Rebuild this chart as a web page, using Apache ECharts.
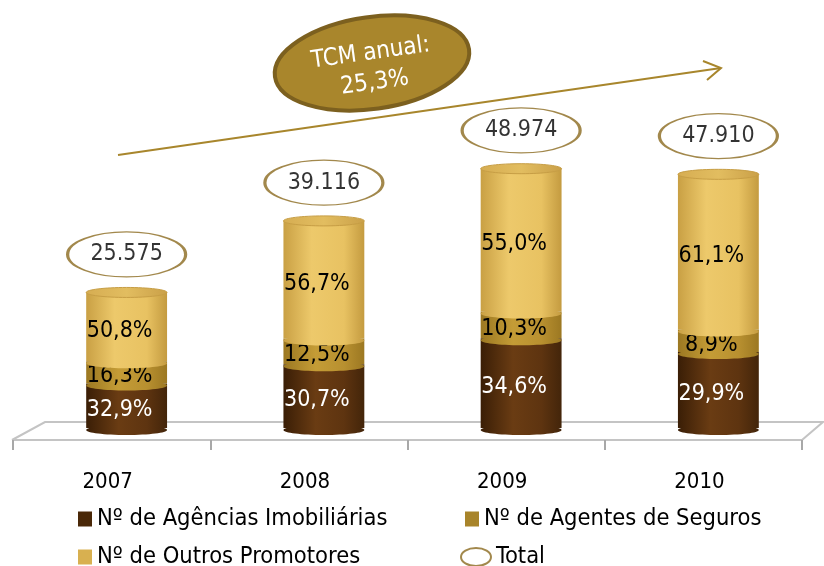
<!DOCTYPE html>
<html>
<head>
<meta charset="utf-8">
<script src="https://cdn.jsdelivr.net/npm/echarts@6/dist/echarts.min.js"></script>
<style>
  html, body { margin: 0; padding: 0; background: #fff; }
  #chart { width: 824px; height: 566px; }
</style>
</head>
<body>
<div id="chart"></div>
<script>
// dados
var years = ['2007', '2008', '2009', '2010'];
var totals = [25575, 39116, 48974, 47910];
var pctAgencias = [32.9, 30.7, 34.6, 29.9];
var pctSeguros = [16.3, 12.5, 10.3, 8.9];
var pctOutros = [50.8, 56.7, 55.0, 61.1];
var tcmText = 'TCM anual:\n25,3%';

var FONT = '"Liberation Sans Narrow", "DejaVu Sans Condensed", "Liberation Sans", sans-serif';

function fmtNum(n) {
    return String(n).replace(/\B(?=(\d{3})+(?!\d))/g, '.');
}
function fmtPct(p) {
    return p.toFixed(1).replace('.', ',') + '%';
}

// segmentos empilhados [categoria, inicio, fim, pct]
var segAg = [], segSeg = [], segOut = [];
years.forEach(function (y, i) {
    var a = totals[i] * pctAgencias[i] / 100;
    var s = totals[i] * pctSeguros[i] / 100;
    var o = totals[i] * pctOutros[i] / 100;
    segAg.push([i, 0, a, pctAgencias[i]]);
    segSeg.push([i, a, a + s, pctSeguros[i]]);
    segOut.push([i, a + s, a + s + o, pctOutros[i]]);
});

function grad(stops) {
    return new echarts.graphic.LinearGradient(0, 0, 1, 0, stops);
}

function cylinder(colors, textColor, isTop) {
    return function (params, api) {
        var cat = api.value(0);
        var p0 = api.coord([cat, api.value(1)]);
        var p1 = api.coord([cat, api.value(2)]);
        var w = api.size([1, 0])[0] * 0.41;
        var ry = 5;
        var fill = grad(colors);
        var children = [
            { type: 'rect', shape: { x: p0[0] - w / 2, y: p1[1], width: w, height: p0[1] - p1[1] }, style: { fill: fill } },
            { type: 'ellipse', shape: { cx: p0[0], cy: p0[1] + 2, rx: w / 2, ry: ry }, style: { fill: fill } }
        ];
        if (isTop) {
            children.push({ type: 'ellipse', shape: { cx: p1[0], cy: p1[1], rx: w / 2, ry: ry },
                style: { fill: grad([{offset: 0, color: '#d6ad52'}, {offset: 0.5, color: '#e2bd60'}, {offset: 1, color: '#caa048'}]), stroke: '#c79e45', lineWidth: 1 } });
        }
        children.push({
            type: 'text',
            x: p0[0] - 7, y: (p0[1] + p1[1]) / 2 + 4,
            style: { text: fmtPct(api.value(3)), fill: textColor, font: '23px ' + FONT, align: 'center', verticalAlign: 'middle' }
        });
        return { type: 'group', children: children };
    };
}

var legendText = { fontSize: 23.5, color: '#000', fontFamily: FONT };

var myChart = echarts.init(document.getElementById('chart'));
var option = {
    backgroundColor: '#fff',
    animation: false,
    textStyle: { fontFamily: FONT },
    grid: [
        { left: 28, right: 7, top: 110, bottom: 138 },
        { left: 13, right: 22, top: 430, height: 10 }
    ],
    xAxis: [
        { type: 'category', data: years, gridIndex: 0, show: false },
        {
            type: 'category', data: years, gridIndex: 1,
            axisLine: { show: true, lineStyle: { color: '#c4c4c4', width: 2 } },
            axisTick: { show: true, interval: 0, length: 10, lineStyle: { color: '#a8a8a8', width: 2 } },
            axisLabel: { color: '#000', fontSize: 22, margin: 31, padding: [0, 8, 0, 0], fontFamily: FONT }
        }
    ],
    yAxis: [
        { type: 'value', gridIndex: 0, min: 0, max: 60000, show: false },
        { type: 'value', gridIndex: 1, min: 0, max: 1, show: false }
    ],
    legend: [
        { data: ['Nº de Agências Imobiliárias'], left: 73, top: 502, icon: 'rect', itemWidth: 14, itemHeight: 15, textStyle: legendText },
        { data: ['Nº de Agentes de Seguros'], left: 460, top: 502, icon: 'rect', itemWidth: 14, itemHeight: 15, textStyle: legendText },
        { data: ['Nº de Outros Promotores'], left: 73, top: 540, icon: 'rect', itemWidth: 14, itemHeight: 15, textStyle: legendText },
        { data: ['Total'], left: 455, top: 540, icon: 'path://M0,9A15,9,0,1,1,30,9A15,9,0,1,1,0,9Z', itemWidth: 30, itemHeight: 18, textStyle: legendText }
    ],
    graphic: [
        // chão 3D
        { type: 'polyline', z: 0, shape: { points: [[12, 440], [45, 422], [823, 422], [802, 440]] }, style: { stroke: '#c4c4c4', lineWidth: 2, fill: null } },
        // seta
        { type: 'line', shape: { x1: 118, y1: 155, x2: 721, y2: 68 }, style: { stroke: '#a8862c', lineWidth: 2 } },
        { type: 'polyline', shape: { points: [[703, 61], [721, 68], [707, 80]] }, style: { stroke: '#a8862c', lineWidth: 2, fill: null } },
        {
            type: 'group', x: 372, y: 63, rotation: 0.14, z: 10,
            children: [
                { type: 'ellipse', shape: { cx: 0, cy: 0, rx: 98, ry: 46 }, style: { fill: '#a9862c', stroke: '#7c601f', lineWidth: 4 } },
                { type: 'text', x: 0, y: 5, style: { text: tcmText, fill: '#fff', font: '24px ' + FONT, align: 'center', verticalAlign: 'middle', lineHeight: 30 } }
            ]
        }
    ],
    series: [
        {
            name: 'Nº de Agências Imobiliárias', type: 'custom', xAxisIndex: 0, yAxisIndex: 0,
            itemStyle: { color: '#4a2808' }, encode: { x: 0, y: [1, 2] }, clip: false,
            renderItem: cylinder([{offset: 0, color: '#3a1e06'}, {offset: 0.4, color: '#6a3c13'}, {offset: 0.75, color: '#5e3410'}, {offset: 1, color: '#43250a'}], '#fff', false),
            data: segAg
        },
        {
            name: 'Nº de Agentes de Seguros', type: 'custom', xAxisIndex: 0, yAxisIndex: 0,
            itemStyle: { color: '#a8842a' }, encode: { x: 0, y: [1, 2] }, clip: false,
            renderItem: cylinder([{offset: 0, color: '#9c7822'}, {offset: 0.4, color: '#c49c36'}, {offset: 0.75, color: '#b89030'}, {offset: 1, color: '#9c7822'}], '#000', false),
            data: segSeg
        },
        {
            name: 'Nº de Outros Promotores', type: 'custom', xAxisIndex: 0, yAxisIndex: 0,
            itemStyle: { color: '#d8b050' }, encode: { x: 0, y: [1, 2] }, clip: false,
            renderItem: cylinder([{offset: 0, color: '#c9a044'}, {offset: 0.35, color: '#edc96b'}, {offset: 0.75, color: '#e8c262'}, {offset: 1, color: '#c49b40'}], '#000', true),
            data: segOut
        },
        {
            name: 'Total', type: 'scatter', xAxisIndex: 0, yAxisIndex: 0,
            symbol: 'circle', symbolSize: [118, 45], symbolOffset: [0, -38],
            itemStyle: { color: '#fff', borderColor: '#8b6a1f', borderWidth: 2 },
            label: { show: true, position: 'inside', color: '#000', fontSize: 23, fontFamily: FONT,
                formatter: function (p) { return fmtNum(p.value); } },
            data: totals
        }
    ]
};
myChart.setOption(option);
</script>
</body>
</html>
